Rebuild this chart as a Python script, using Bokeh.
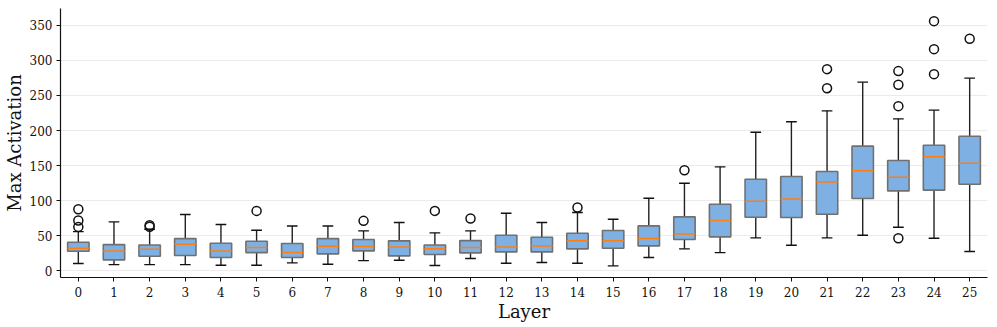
from bokeh.plotting import figure
from bokeh.models import FixedTicker, Range1d, ColumnDataSource
from bokeh.embed import file_html
from bokeh.resources import INLINE

layers = list(range(26))
tick_labels = [str(i) for i in layers]

whisker_low = [10.5, 9, 9, 9, 8, 8, 11.4, 9.5, 14.7, 15.2, 7.6, 17.6, 10.9, 11.9, 10.9, 7.1, 19,
               31.4, 26.1, 47, 36.6, 47, 50.8, 62.2, 46.6, 27.6]
q1 = [28, 15.7, 20.9, 21.9, 19, 26.1, 19, 24.2, 28.5, 21.4, 23.3, 25.7, 27.1, 27.1, 31.4, 32.3, 35.6,
      44.7, 48.5, 76.5, 76, 80.8, 103.1, 114, 115, 123.5]
median = [32.3, 28.5, 30.9, 38, 28.5, 33.3, 26.1, 35, 34.7, 34.2, 31.4, 33.3, 34.2, 35.6, 42.8, 42.8, 46.1,
          52.7, 71.7, 99.3, 102.6, 126.8, 142.5, 133.5, 162.5, 153.4]
q3 = [40.9, 37.5, 37, 46, 39.4, 42.3, 39, 46, 44.7, 42.8, 37, 43.2, 50.8, 48, 53.7, 57.5, 64.1,
      77, 95, 130.6, 134.4, 141.6, 177.7, 157.2, 179.1, 191.9]
whisker_high = [56, 69.8, 59.4, 80.3, 66, 58, 64, 64, 57, 68.9, 54.2, 57, 82.2, 68.9, 83.1, 73.6, 103.6,
                124.9, 148.2, 197.6, 212.4, 228, 268.9, 216.6, 229, 274.6]

outlier_layer = [0, 0, 0, 2, 2, 5, 8, 10, 11, 14, 17, 21, 21, 23, 23, 23, 23, 24, 24, 24, 25]
outlier_value = [87.9, 71.7, 62.7, 65, 63, 85.5, 71.3, 85.5, 74.6, 90.3, 143.5, 287.4, 260.3,
                 284.6, 265.1, 234.7, 46.6, 355.8, 315.9, 280.3, 330.6]

BOX_W = 0.6
CAP_W = 0.3

src = ColumnDataSource(dict(
    x=layers, wl=whisker_low, q1=q1, med=median, q3=q3, wh=whisker_high,
    xl=[x - BOX_W / 2 for x in layers], xr=[x + BOX_W / 2 for x in layers],
    cl=[x - CAP_W / 2 for x in layers], cr=[x + CAP_W / 2 for x in layers],
))

p = figure(width=997, height=327, output_backend="svg", toolbar_location=None,
           x_range=Range1d(-0.5, 25.5), y_range=Range1d(-9.4, 373.8),
           min_border_left=60, min_border_right=10, min_border_top=8, min_border_bottom=50)
p.outline_line_color = None
p.background_fill_color = "white"

FONT = "DejaVu Serif"

# whiskers
p.segment(x0="x", y0="wl", x1="x", y1="q1", source=src, line_color="#222222", line_width=1.4)
p.segment(x0="x", y0="q3", x1="x", y1="wh", source=src, line_color="#222222", line_width=1.4)
# caps
p.segment(x0="cl", y0="wl", x1="cr", y1="wl", source=src, line_color="#111111", line_width=1.4)
p.segment(x0="cl", y0="wh", x1="cr", y1="wh", source=src, line_color="#111111", line_width=1.4)
# boxes
p.vbar(x="x", bottom="q1", top="q3", width=BOX_W, source=src,
       fill_color="#7fb0e3", line_color="#707070", line_width=1.6)
# medians
p.segment(x0="xl", y0="med", x1="xr", y1="med", source=src, line_color="#ff7f0e", line_width=1.5)
# outliers
p.scatter(outlier_layer, outlier_value, marker="circle", size=9, fill_color=None,
          line_color="#111111", line_width=1.5)

p.xgrid.grid_line_color = None
p.ygrid.grid_line_color = "#ebebeb"
p.ygrid.grid_line_width = 1

p.xaxis.ticker = FixedTicker(ticks=layers)
p.xaxis.major_label_overrides = {i: lab for i, lab in zip(layers, tick_labels)}
p.yaxis.ticker = FixedTicker(ticks=[0, 50, 100, 150, 200, 250, 300, 350])

for ax in (p.xaxis[0], p.yaxis[0]):
    ax.axis_line_color = "#111111"
    ax.axis_line_width = 1.2
    ax.major_tick_line_color = "#111111"
    ax.major_tick_out = 4
    ax.major_tick_in = 0
    ax.minor_tick_line_color = None
    ax.major_label_text_font = FONT
    ax.major_label_text_font_size = "12px"
    ax.major_label_text_color = "#111111"
    ax.axis_label_text_font = FONT
    ax.axis_label_text_font_size = "18px"
    ax.axis_label_text_font_style = "normal"
    ax.axis_label_text_color = "#111111"

p.xaxis.axis_label = "Layer"
p.yaxis.axis_label = "Max Activation"
p.xaxis.axis_label_standoff = 1
p.yaxis.axis_label_standoff = 2
p.xaxis.major_label_standoff = 5
p.yaxis.major_label_standoff = 4

open("out.html", "w").write(file_html(p, INLINE))
